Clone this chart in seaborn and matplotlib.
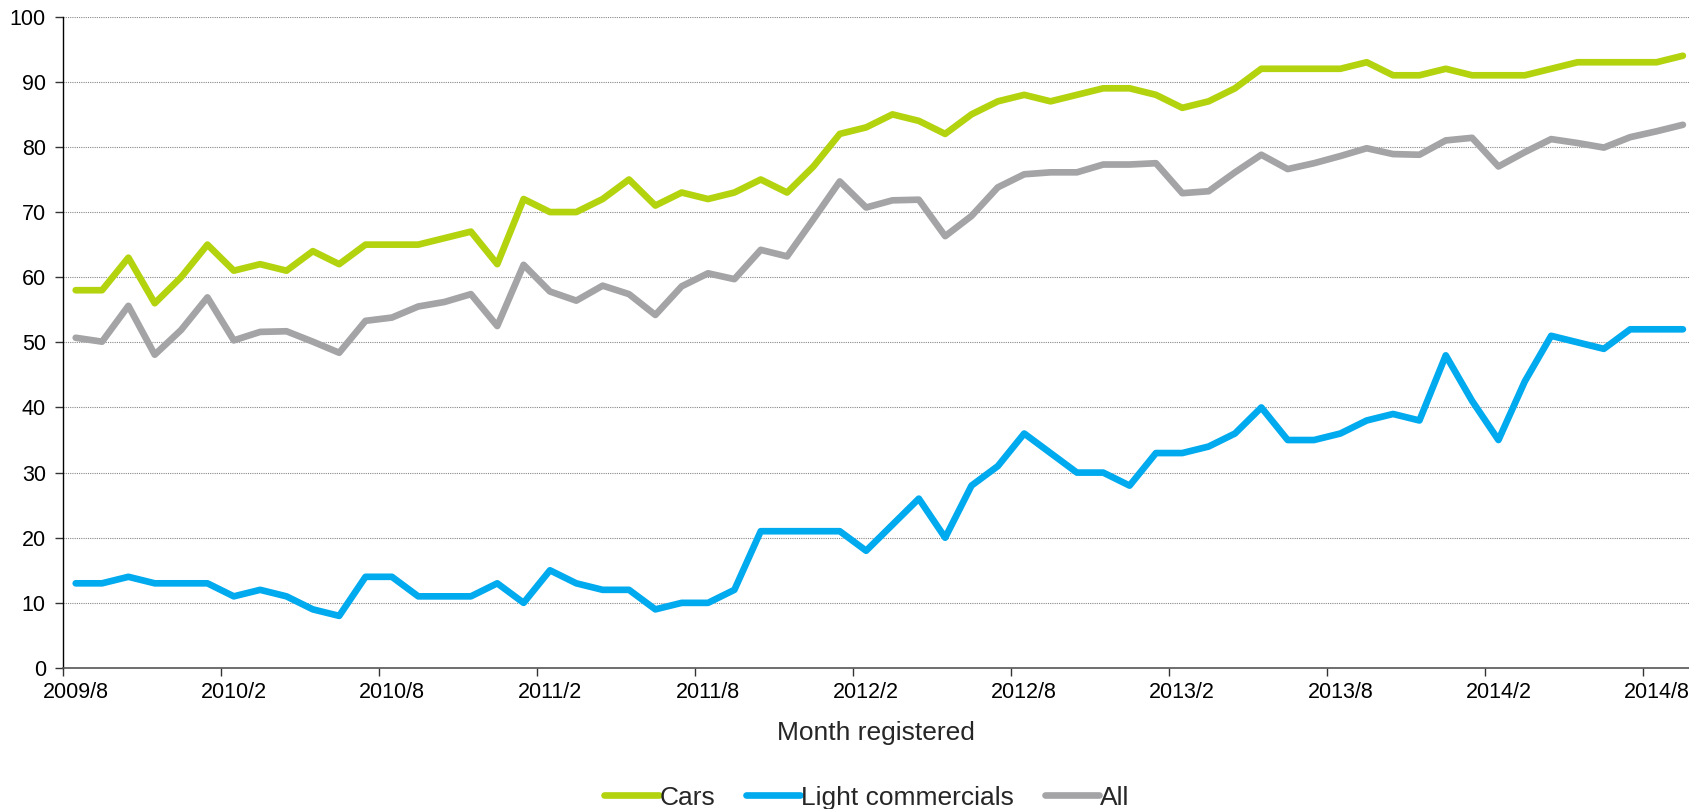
import pandas as pd
import seaborn as sns
import matplotlib.pyplot as plt
from matplotlib.lines import Line2D

# monthly share values, 2009/8 .. 2014/9
cars = [58, 58, 63, 56, 60, 65, 61, 62, 61, 64, 62, 65, 65, 65, 66, 67,
        62, 72, 70, 70, 72, 75, 71, 73, 72, 73, 75, 73, 77, 82, 83,
        85, 84, 82, 85, 87, 88, 87, 88, 89, 89, 88, 86, 87, 89, 92, 92,
        92, 92, 93, 91, 91, 92, 91, 91, 91, 92, 93, 93, 93, 93, 94]
light_commercials = [13, 13, 14, 13, 13, 13, 11, 12, 11, 9, 8, 14, 14, 11, 11, 11, 13, 10, 15,
                     13, 12, 12, 9, 10, 10, 12, 21, 21, 21, 21, 18, 22, 26, 20,
                     28, 31, 36, 33, 30, 30, 28, 33, 33, 34, 36, 40, 35,
                     35, 36, 38, 39, 38, 48, 41, 35, 44, 51, 50, 49, 52, 52, 52]
all_vehicles = [50.7, 50.1, 55.6, 48.1, 51.9, 56.9, 50.3, 51.6, 51.7, 50.1, 48.4, 53.3, 53.8, 55.5, 56.2, 57.4,
                52.5, 61.9, 57.8, 56.4, 58.7, 57.4, 54.2, 58.6, 60.6, 59.7, 64.2, 63.2, 68.9, 74.7, 70.7,
                71.8, 71.9, 66.3, 69.4, 73.8, 75.8, 76.1, 76.1, 77.3, 77.3, 77.5, 72.9, 73.2, 76.1, 78.8, 76.6,
                77.5, 78.6, 79.8, 78.9, 78.8, 81.0, 81.4, 77.0, 79.2, 81.2, 80.6, 79.9, 81.5, 82.4, 83.4]

tick_labels = ['2009/8', '2010/2', '2010/8', '2011/2', '2011/8', '2012/2',
               '2012/8', '2013/2', '2013/8', '2014/2', '2014/8']

series_names = ['Cars', 'Light commercials', 'All']
colors = {'Cars': '#B3D30E', 'Light commercials': '#00AAEE', 'All': '#A4A4A7'}

rows = []
for name, vals in zip(series_names, [cars, light_commercials, all_vehicles]):
    for i, v in enumerate(vals):
        rows.append({'month': i + 0.5, 'value': v, 'series': name})
df = pd.DataFrame(rows)

sns.set_style('white')
plt.rcParams['font.family'] = ['Liberation Sans', 'DejaVu Sans']

fig = plt.figure(figsize=(16.9, 8.09), dpi=100)
ax = fig.add_axes([0.037, 0.1743, 0.963, 0.8051])

ax.yaxis.grid(True, linestyle=(0, (1, 1)), color='#888888', linewidth=0.8)
ax.set_axisbelow(True)

sns.lineplot(data=df, x='month', y='value', hue='series', palette=colors,
             hue_order=series_names, linewidth=4.8, legend=False, ax=ax,
             solid_capstyle='round')

ax.set_xlim(0, 61.77)
ax.set_ylim(0, 100)
ax.set_yticks(range(0, 101, 10))

# tick marks sit between months, labels centred on the month
ax.set_xticks(range(0, 61, 6))
ax.set_xticklabels([''] * len(tick_labels))
ax.set_xticks([i + 0.5 for i in range(0, 61, 6)], minor=True)
ax.set_xticklabels(tick_labels, minor=True)

ax.tick_params(axis='both', which='major', labelsize=15.5, direction='out', length=6, width=1,
               color='#333333', labelcolor='black', left=True, bottom=True)
ax.tick_params(axis='x', which='minor', length=0, labelsize=15.5, pad=10, labelcolor='black')
ax.tick_params(axis='y', pad=6)

for side in ['top', 'right']:
    ax.spines[side].set_visible(False)
ax.spines['left'].set_color('black')
ax.spines['bottom'].set_color('#555555')
ax.spines['left'].set_linewidth(1)
ax.spines['bottom'].set_linewidth(1.2)

ax.set_xlabel('Month registered', fontsize=19)
ax.xaxis.label.set_va('center')
ax.xaxis.set_label_coords(0.5, -0.1)
ax.set_ylabel('')

handles = [Line2D([0], [0], color=colors[n], linewidth=4.8) for n in series_names]
fig.legend(handles, series_names, loc='center', bbox_to_anchor=(0.513, 0.014),
           ncol=3, frameon=False, fontsize=19, handlelength=2.05,
           handletextpad=0.05, columnspacing=1.15)

plt.savefig('out.png', dpi=100)
plt.close()
